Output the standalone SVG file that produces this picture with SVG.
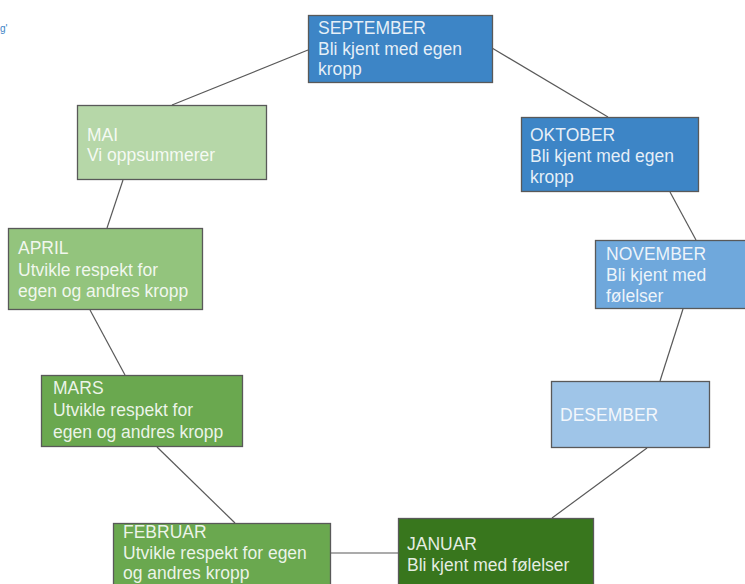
<svg xmlns="http://www.w3.org/2000/svg" width="745" height="584" viewBox="0 0 745 584">
<style>
.box{stroke:#595959;stroke-width:1.3}
.t{font-family:"Liberation Sans",Arial,sans-serif;font-size:17.5px;fill:#ffffff;fill-opacity:0.88}
.c line{stroke:#595959;stroke-width:1.2}
</style>
<rect width="745" height="584" fill="#ffffff"/>
<text x="0" y="32" font-family="Liberation Sans,Arial,sans-serif" font-size="10" fill="#3d85c6">g'</text>
<g class="c" id="connectors">
<line x1="308" y1="50" x2="172" y2="105"/>
<line x1="492" y1="48" x2="608" y2="117"/>
<line x1="670" y1="192" x2="696" y2="240"/>
<line x1="683" y1="309" x2="660" y2="381"/>
<line x1="647" y1="448" x2="552" y2="518"/>
<line x1="331" y1="553" x2="398" y2="553"/>
<line x1="157" y1="447" x2="235" y2="523"/>
<line x1="90" y1="310" x2="125" y2="375"/>
<line x1="107" y1="228" x2="123" y2="180"/>
</g>
<g id="september">
<rect class="box" x="308.5" y="15.5" width="184" height="67" fill="#3d85c6"/>
<text class="t" x="318" y="34">SEPTEMBER</text>
<text class="t" x="318" y="55">Bli kjent med egen</text>
<text class="t" x="318" y="75">kropp</text>
</g>
<g id="oktober">
<rect class="box" x="521.5" y="117.5" width="177" height="74" fill="#3d85c6"/>
<text class="t" x="530" y="141">OKTOBER</text>
<text class="t" x="530" y="162">Bli kjent med egen</text>
<text class="t" x="530" y="183">kropp</text>
</g>
<g id="november">
<rect class="box" x="595.5" y="240.5" width="160" height="68" fill="#6fa8dc"/>
<text class="t" x="606" y="260">NOVEMBER</text>
<text class="t" x="606" y="281">Bli kjent med</text>
<text class="t" x="606" y="302">følelser</text>
</g>
<g id="desember">
<rect class="box" x="551.5" y="381.5" width="158" height="66" fill="#9fc5e8"/>
<text class="t" x="560" y="421">DESEMBER</text>
</g>
<g id="januar">
<rect class="box" x="398.5" y="518.5" width="195" height="80" fill="#38761d"/>
<text class="t" x="407" y="550">JANUAR</text>
<text class="t" x="407" y="571">Bli kjent med følelser</text>
</g>
<g id="februar">
<rect class="box" x="113.5" y="523.5" width="217" height="80" fill="#6aa84f"/>
<text class="t" x="123" y="538">FEBRUAR</text>
<text class="t" x="123" y="559">Utvikle respekt for egen</text>
<text class="t" x="123" y="579">og andres kropp</text>
</g>
<g id="mars">
<rect class="box" x="41.5" y="375.5" width="201" height="71" fill="#6aa84f"/>
<text class="t" x="53" y="394">MARS</text>
<text class="t" x="53" y="416">Utvikle respekt for</text>
<text class="t" x="53" y="438">egen og andres kropp</text>
</g>
<g id="april">
<rect class="box" x="8.5" y="228.5" width="194" height="81" fill="#93c47d"/>
<text class="t" x="18" y="254">APRIL</text>
<text class="t" x="18" y="276">Utvikle respekt for</text>
<text class="t" x="18" y="297">egen og andres kropp</text>
</g>
<g id="mai">
<rect class="box" x="77.5" y="105.5" width="189" height="74" fill="#b6d7a8"/>
<text class="t" x="87" y="141">MAI</text>
<text class="t" x="87" y="161">Vi oppsummerer</text>
</g>
</svg>
